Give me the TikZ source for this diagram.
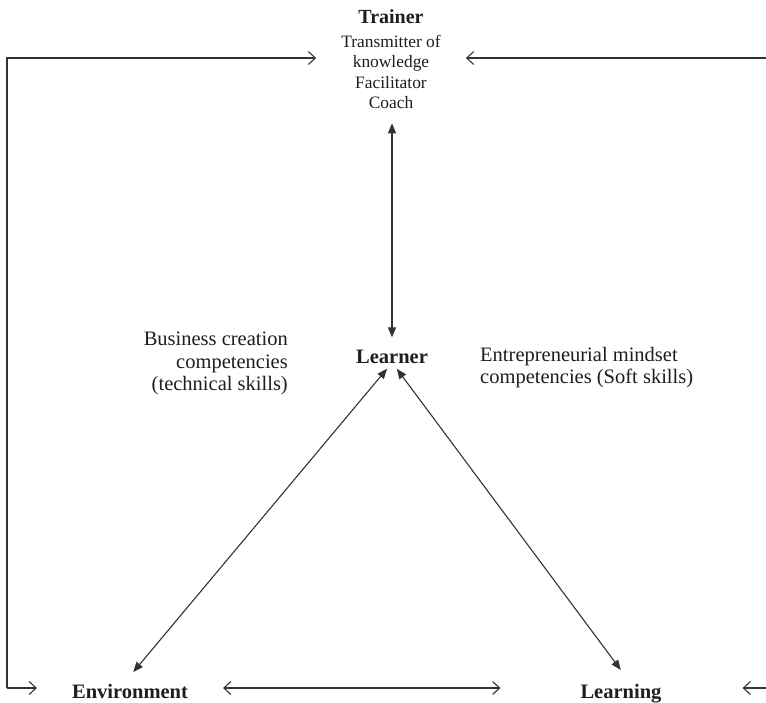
\documentclass[tikz,border=0pt]{standalone}
\usepackage{fontspec}
\setmainfont{Liberation Serif}
\usetikzlibrary{arrows.meta}
\definecolor{ink}{HTML}{1E1E1E}
\definecolor{linec}{HTML}{333333}
\tikzset{
  lbl/.style={text=ink, inner sep=0pt, font=\fontsize{20.5}{22.5}\selectfont\bfseries},
  txt/.style={text=ink, inner sep=0pt, font=\fontsize{20.5}{22.5}\selectfont},
  conn/.style={draw=linec, line width=1.1pt},
  openarr/.style={conn, -{Straight Barb[length=7pt,width=13pt,line width=1.1pt]}},
  openboth/.style={conn, {Straight Barb[length=7pt,width=13pt,line width=1.1pt]}-{Straight Barb[length=7pt,width=13pt,line width=1.1pt]}},
  filledboth/.style={conn, {Triangle[length=10pt,width=8pt]}-{Triangle[length=10pt,width=8pt]}}
}
\begin{document}
\begin{tikzpicture}[x=1pt,y=-1pt]
\useasboundingbox[fill=white] (0,0) rectangle (766,702);

% nodes
\node[txt, anchor=north, align=center, font=\fontsize{17.4}{20.6}\selectfont] (trainer) at (391,9.5)
  {{\fontsize{20}{20.6}\selectfont\bfseries Trainer}\\[3pt]
   Transmitter of\\ knowledge\\ Facilitator\\ Coach};
\node[lbl, anchor=base] (learner) at (392,363) {Learner};
\node[lbl, anchor=base] (env) at (130,698) {Environment};
\node[lbl, anchor=base] (learning) at (621,698) {Learning};
\node[txt, anchor=north east, align=right] (bizc) at (288,332)
  {Business creation\\ competencies\\ (technical skills)};
\node[txt, anchor=north west, align=left] (entm) at (480,347)
  {Entrepreneurial mindset\\ competencies (Soft skills)};

% frame coordinates
\coordinate (tl) at (7,58);
\coordinate (bl) at (7,688);
\coordinate (tr) at (766,58);
\coordinate (br) at (766,688);

% connectors
\draw[openarr, shorten >=25pt] (bl) -- (tl) -- (tl -| trainer.west);
\draw[openarr, shorten >=25pt] (tr) -- (tr -| trainer.east);
\draw[openarr, shorten >=35pt] (bl) -- (bl -| env.west);
\draw[openboth, shorten <=35pt, shorten >=80pt] (bl -| env.east) -- (bl -| learning.west);
\draw[openarr, shorten >=81pt] (br) -- (br -| learning.east);

\draw[filledboth, shorten <=14pt, shorten >=12pt] (trainer.south -| learner.north) -- (learner.north);
\draw[filledboth, shorten <=3pt, shorten >=2pt] ([xshift=-3pt,yshift=-3pt]learner.south) -- ([xshift=2pt,yshift=10pt]env.north);
\draw[filledboth, shorten <=3pt, shorten >=2pt] ([xshift=3pt,yshift=-3pt]learner.south) -- ([xshift=1pt,yshift=12pt]learning.north);
\end{tikzpicture}
\end{document}
